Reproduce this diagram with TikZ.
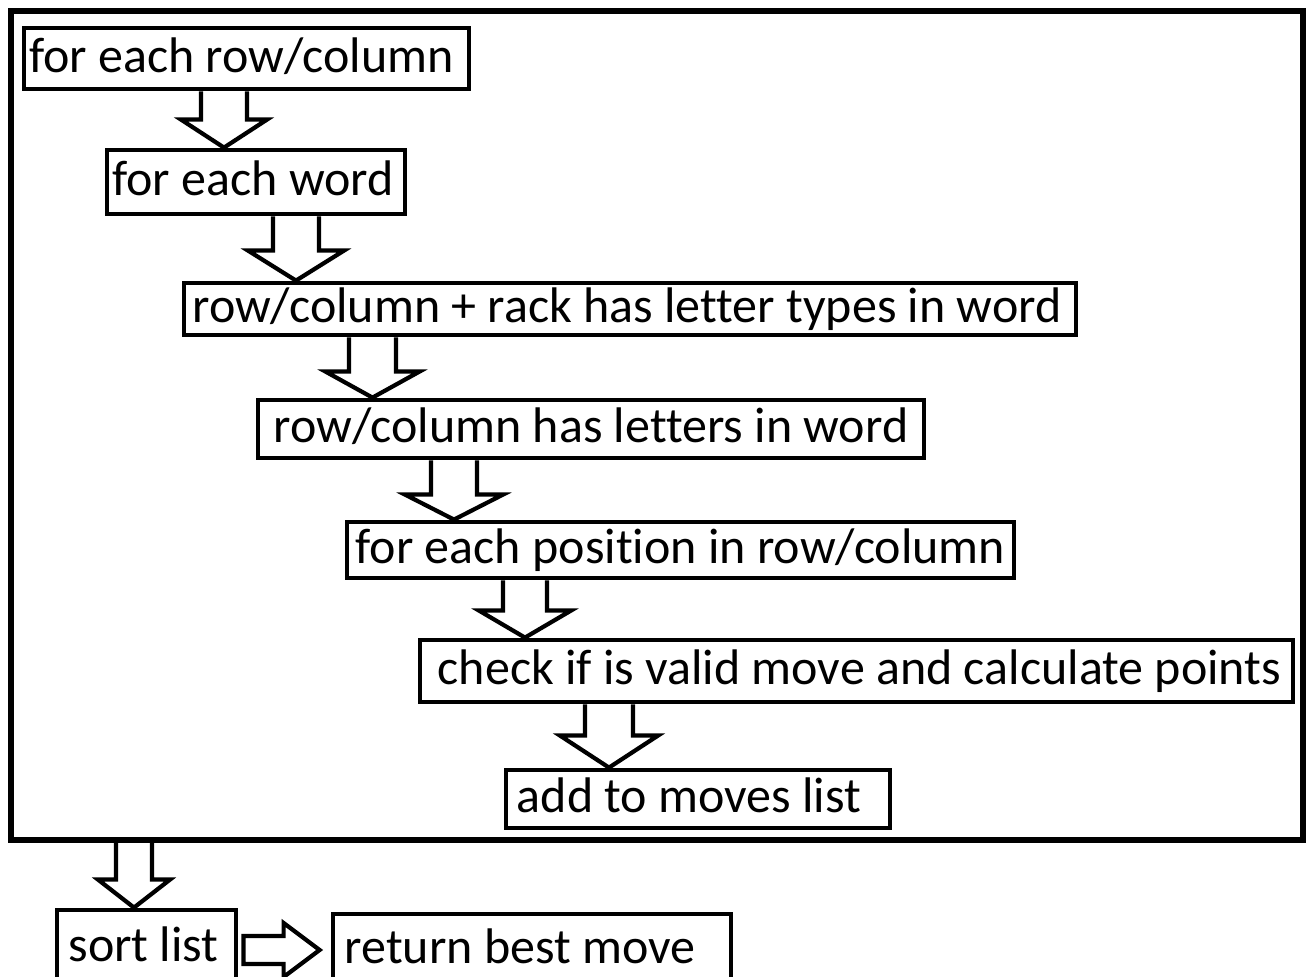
\documentclass[tikz,border=0pt]{standalone}
\usepackage{fontspec}
\setmainfont{Carlito}[Ligatures={NoCommon}]
\usetikzlibrary{calc}

% one drawing unit = 0.5pt
\def\pxu{0.5pt}

\tikzset{
  wh/.style 2 args={minimum width=#1*\pxu, minimum height=#2*\pxu},
  stepbox/.style={draw, line width=2.4pt, inner sep=0pt,
    font=\fontsize{25}{30}\selectfont, text height=18.75pt, text depth=5pt},
  % moves the label left inside its box by #1 units
  textleft/.style={execute at end node={\hspace*{#1pt}}},
  loopframe/.style={draw, line width=2.6pt, inner sep=0pt},
  blockarrow/.style={draw, line width=2.1pt, line join=miter}
}

% hollow downward block arrow: source, target, centre x, shaft half width,
% head half width, head length
\newcommand\vblock[6]{%
  \draw[blockarrow] let \p1=(#1.south), \p2=(#2.north) in
    ({(#3-#4)*\pxu},\y1) -- ({(#3-#4)*\pxu},{\y2+#6*\pxu})
    -- ({(#3-#5)*\pxu},{\y2+#6*\pxu}) -- ({#3*\pxu},\y2)
    -- ({(#3+#5)*\pxu},{\y2+#6*\pxu}) -- ({(#3+#4)*\pxu},{\y2+#6*\pxu})
    -- ({(#3+#4)*\pxu},\y1);
}

% hollow rightward block arrow: source, target, centre y, shaft half height,
% head half height, head length
\newcommand\hblock[6]{%
  \draw[blockarrow] let \p1=(#1.east), \p2=(#2.west) in
    ({\x1+5*\pxu},{-(#3-#4)*\pxu}) -- ({\x2-(11+#6)*\pxu},{-(#3-#4)*\pxu})
    -- ({\x2-(11+#6)*\pxu},{-(#3-#5)*\pxu}) -- ({\x2-11*\pxu},{-#3*\pxu})
    -- ({\x2-(11+#6)*\pxu},{-(#3+#5)*\pxu}) -- ({\x2-(11+#6)*\pxu},{-(#3+#4)*\pxu})
    -- ({\x1+5*\pxu},{-(#3+#4)*\pxu}) -- cycle;
}

\begin{document}
\begin{tikzpicture}[x=0.5pt, y=-0.5pt]
  \useasboundingbox (0,0) rectangle (1307,977);
  \clip (0,0) rectangle (1307,977);

  % enclosing loop
  \node[loopframe, wh={1292}{829}] (loop) at (657,425.5) {};

  % steps inside the loop
  \node[stepbox, wh={445}{61}, textleft=5]  (b1) at (246.5,58.5) {for each row/column};
  \node[stepbox, wh={298}{64}, textleft=3]  (b2) at (256,182)    {for each word};
  \node[stepbox, wh={892}{52}, textleft=3]  (b3) at (630,309)    {row/column + rack has letter types in word};
  \node[stepbox, wh={666}{58}]              (b4) at (591,429)    {row/column has letters in word};
  \node[stepbox, wh={667}{56}]              (b5) at (680.5,550)  {for each position in row/column};
  \node[stepbox, wh={873}{62}, textleft=-3] (b6) at (856.5,671)  {check if is valid move and calculate points};
  \node[stepbox, wh={384}{58}, textleft=9]  (b7) at (698,799)    {add to moves list};

  % steps after the loop
  \node[stepbox, wh={179}{75}, textleft=3]  (b8) at (146.5,947.5) {sort list};
  \node[stepbox, wh={398}{71}, textleft=12] (b9) at (532,949.5)   {return best move};

  % arrows
  \vblock{b1}{b2}{224}{23}{43}{28}
  \vblock{b2}{b3}{296}{23}{48}{30}
  \vblock{b3}{b4}{372.5}{23.5}{47}{26}
  \vblock{b4}{b5}{454}{23}{49}{25}
  \vblock{b5}{b6}{525}{22}{46}{27}
  \vblock{b6}{b7}{609}{24}{49}{32}
  \vblock{loop}{b8}{134}{18}{36}{28}
  \hblock{b8}{b9}{950}{14}{27}{36}
\end{tikzpicture}
\end{document}
